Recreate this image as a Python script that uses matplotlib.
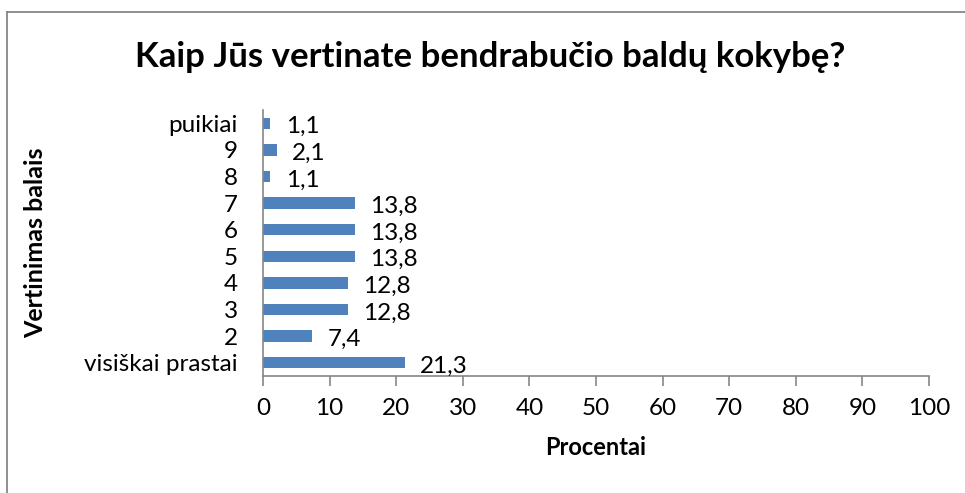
import matplotlib
matplotlib.use("Agg")
import matplotlib.pyplot as plt
from matplotlib.lines import Line2D

categories = ["visiškai prastai", "2", "3", "4", "5", "6", "7", "8", "9", "puikiai"]
values = [21.3, 7.4, 12.8, 12.8, 13.8, 13.8, 13.8, 1.1, 2.1, 1.1]
xticks = [0, 10, 20, 30, 40, 50, 60, 70, 80, 90, 100]
title = "Kaip Jūs vertinate bendrabučio baldų kokybę?"
xlabel = "Procentai"
ylabel = "Vertinimas balais"

plt.rcParams['font.family'] = ['Lato', 'DejaVu Sans']

W, H = 965, 493
fig = plt.figure(figsize=(W / 100, H / 100), dpi=100)
ax = fig.add_axes([263 / W, (H - 376) / H, (929 - 263) / W, (376 - 110) / H])

ypos = list(range(len(categories)))
ax.barh(ypos, values, height=0.43, color="#4F81BD")
ax.set_xlim(0, 100)
ax.set_ylim(-0.5, len(categories) - 0.5)
ax.set_yticks(ypos)
ax.set_yticklabels(categories, fontsize=17.5)
ax.set_xticks(xticks)
ax.set_xticklabels([str(t) for t in xticks], fontsize=17.5)

for sp in ["top", "right"]:
    ax.spines[sp].set_visible(False)
for sp in ["left", "bottom"]:
    ax.spines[sp].set_color("#868686")
    ax.spines[sp].set_linewidth(1.2)
ax.tick_params(axis="y", length=0, pad=18)
ax.tick_params(axis="x", length=7, width=1.2, color="#868686", pad=9, direction="out")

for y, v in zip(ypos, values):
    ax.annotate(f"{v:.1f}".replace(".", ","), xy=(v, y), xytext=(11, -2.5),
                textcoords="offset points", ha="left", va="center", fontsize=17.5)

ax.set_xlabel(xlabel, fontsize=17, fontweight="bold", labelpad=12)
fig.text(36 / W, 1 - 243 / H, ylabel, rotation=90, ha="center", va="center",
         fontsize=18, fontweight="bold")
fig.text(490 / W, 1 - 57 / H, title, ha="center", va="center", fontsize=25, fontweight="bold")

# chart frame (top and left edges visible)
fig.add_artist(Line2D([7 / W, 1.0], [1 - 11.5 / H, 1 - 11.5 / H], color="#868686", lw=1.3, transform=fig.transFigure))
fig.add_artist(Line2D([7 / W, 7 / W], [0, 1 - 11.5 / H], color="#868686", lw=1.3, transform=fig.transFigure))

fig.savefig("out.png", dpi=100)
